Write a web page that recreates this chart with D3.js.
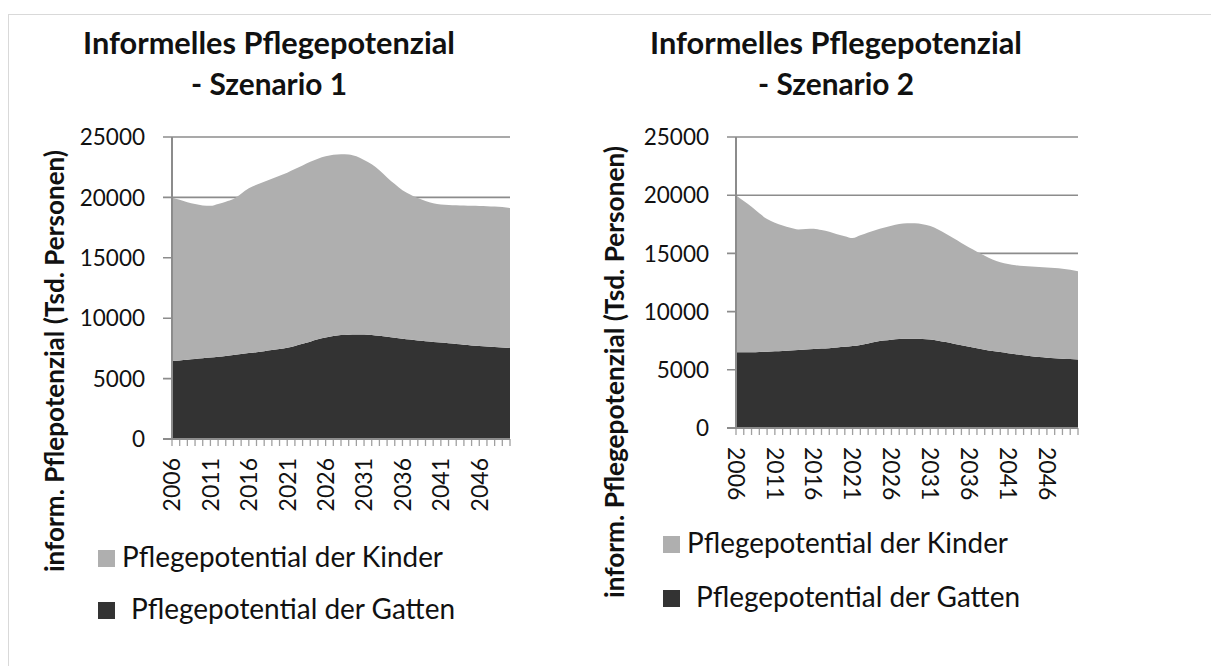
<!DOCTYPE html>
<html>
<head>
<meta charset="utf-8">
<script src="https://cdn.jsdelivr.net/npm/d3@7"></script>
<style>
  body { margin: 0; background: #fff; }
  svg { font-family: Lato, "Open Sans", sans-serif; }
</style>
</head>
<body>
<div id="chart"></div>
<script>
// years 2006 - 2050
var years = d3.range(2006, 2051);
var yearLabels = ["2006","2011","2016","2021","2026","2031","2036","2041","2046"];
var yTicks = [0, 5000, 10000, 15000, 20000, 25000];

// Szenario 1 (Tsd. Personen)
var gatten1 = [6450,6500,6560,6620,6680,6740,6810,6880,6950,7030,
               7110,7190,7270,7360,7450,7560,7700,7880,8060,8250,
               8400,8520,8600,8640,8660,8650,8610,8540,8460,8380,
               8300,8230,8160,8100,8040,7980,7920,7860,7800,7750,
               7700,7650,7610,7570,7530];
var kinder1 = [13550,13300,13040,12830,12650,12560,12640,12770,12920,13270,
               13640,13860,14030,14190,14350,14490,14650,14770,14890,14950,
               15000,15010,14980,14920,14740,14450,14140,13710,13190,12720,
               12300,12020,11790,11600,11480,11440,11450,11480,11520,11550,
               11590,11620,11630,11630,11590];

// Szenario 2 (Tsd. Personen)
var gatten2 = [6500,6500,6510,6530,6560,6590,6620,6660,6700,6740,
               6780,6820,6860,6910,6970,7040,7140,7270,7400,7510,
               7590,7640,7670,7670,7650,7600,7500,7380,7240,7100,
               6970,6850,6730,6620,6520,6420,6330,6240,6160,6090,
               6030,5990,5950,5920,5890];
var kinder2 = [13500,13000,12490,11920,11390,11050,10780,10540,10360,10360,
               10340,10180,9990,9740,9510,9280,9410,9530,9620,9690,
               9790,9880,9920,9910,9850,9750,9550,9300,9060,8800,
               8530,8300,8070,7860,7730,7680,7660,7680,7710,7740,
               7760,7750,7730,7680,7580];

var seriesNames = ["Pflegepotential der Kinder", "Pflegepotential der Gatten"];
var colKinder = "#afafaf", colGatten = "#333333", colAxis = "#8c8c8c";

var svg = d3.select("#chart").append("svg")
    .attr("width", 1211)
    .attr("height", 666);

// outer frame
svg.append("rect")
    .attr("x", 8.5).attr("y", 14.5)
    .attr("width", 1220).attr("height", 700)
    .attr("fill", "none")
    .attr("stroke", "#d9d9d9");

function drawChart(o) {
  var g = svg.append("g");
  var data = years.map(function(y, i) {
    return { year: y, gatten: o.gatten[i], kinder: o.kinder[i] };
  });
  var stack = d3.stack().keys(["gatten", "kinder"])(data);

  var x = d3.scalePoint().domain(years).range([o.x0, o.x1]);
  var y = d3.scaleLinear().domain([0, 25000]).range([o.y0, o.y1]);

  // gridlines
  g.selectAll(".grid").data(yTicks).enter().append("line")
      .attr("x1", o.x0 - 9).attr("x2", o.x1)
      .attr("y1", function(d) { return y(d); })
      .attr("y2", function(d) { return y(d); })
      .attr("stroke", colAxis).attr("stroke-width", 1.6);

  var area = d3.area()
      .curve(d3.curveMonotoneX)
      .x(function(d) { return x(d.data.year); })
      .y0(function(d) { return y(d[0]); })
      .y1(function(d) { return y(d[1]); });

  g.selectAll(".layer").data(stack).enter().append("path")
      .attr("d", area)
      .attr("fill", function(d) { return d.key == "gatten" ? colGatten : colKinder; });

  // y axis line
  g.append("line")
      .attr("x1", o.x0).attr("x2", o.x0)
      .attr("y1", y(25000)).attr("y2", o.y0)
      .attr("stroke", colAxis).attr("stroke-width", 2);

  // x axis ticks
  g.selectAll(".xt").data(years).enter().append("line")
      .attr("x1", function(d) { return x(d); })
      .attr("x2", function(d) { return x(d); })
      .attr("y1", o.y0).attr("y2", o.y0 + 7)
      .attr("stroke", "#a0a0a0").attr("stroke-width", 1.3);
  g.append("line")
      .attr("x1", o.x0 - 9).attr("x2", o.x1)
      .attr("y1", o.y0).attr("y2", o.y0)
      .attr("stroke", colAxis).attr("stroke-width", 2);

  // y tick labels
  g.selectAll(".yl").data(yTicks).enter().append("text")
      .attr("x", o.x0 - 27)
      .attr("y", function(d) { return y(d); })
      .attr("dy", "0.36em")
      .attr("text-anchor", "end")
      .attr("font-size", 22.5)
      .attr("fill", "#111")
      .text(function(d) { return d; });

  // x tick labels, rotated
  g.selectAll(".xl").data(yearLabels).enter().append("text")
      .attr("transform", function(d) {
        return "translate(" + x(+d) + "," + o.xlY + ") rotate(" + o.rot + ")";
      })
      .attr("dy", "0.36em")
      .attr("text-anchor", o.rot < 0 ? "end" : "start")
      .attr("font-size", 23)
      .attr("fill", "#111")
      .text(function(d) { return d; });

  // title
  g.selectAll(".title").data(o.title).enter().append("text")
      .attr("x", o.titleX)
      .attr("y", function(d, i) { return i == 0 ? 54 : 95; })
      .attr("text-anchor", "middle")
      .attr("font-size", 30)
      .attr("font-weight", "bold")
      .attr("fill", "#111")
      .attr("textLength", function(d, i) { return i == 0 ? 372 : 156; })
      .attr("lengthAdjust", "spacingAndGlyphs")
      .text(function(d) { return d; });

  // y axis title
  g.append("text")
      .attr("transform", "translate(" + o.ytX + "," + o.ytY + ") rotate(-90)")
      .attr("text-anchor", "middle")
      .attr("font-size", 26)
      .attr("font-weight", "bold")
      .attr("fill", "#111")
      .attr("textLength", o.ytLen)
      .attr("lengthAdjust", "spacingAndGlyphs")
      .text(o.yTitle);

  // legend
  var leg = g.selectAll(".leg").data(seriesNames).enter().append("g")
      .attr("transform", function(d, i) {
        return "translate(" + o.legX + "," + o.legY[i] + ")";
      });
  leg.append("rect")
      .attr("x", 0).attr("y", -17)
      .attr("width", 17).attr("height", 17)
      .attr("fill", function(d, i) { return i == 0 ? colKinder : colGatten; });
  leg.append("text")
      .attr("x", function(d, i) { return i == 0 ? 24 : 33; })
      .attr("font-size", 28)
      .attr("fill", "#111")
      .attr("textLength", function(d, i) { return i == 0 ? 321 : 324; })
      .attr("lengthAdjust", "spacingAndGlyphs")
      .text(function(d) { return d; });
}

drawChart({
  gatten: gatten1, kinder: kinder1,
  x0: 172, x1: 510, y0: 439, y1: 137, rot: -90, xlY: 458,
  title: ["Informelles Pflegepotenzial", "- Szenario 1"], titleX: 269,
  yTitle: "inform. Pflepotenzial (Tsd. Personen)", ytX: 64, ytY: 361, ytLen: 422,
  legX: 98, legY: [567, 619]
});

drawChart({
  gatten: gatten2, kinder: kinder2,
  x0: 736, x1: 1078, y0: 428, y1: 137, rot: 90, xlY: 447,
  title: ["Informelles Pflegepotenzial", "- Szenario 2"], titleX: 836,
  yTitle: "inform. Pflegepotenzial (Tsd. Personen)", ytX: 624, ytY: 372, ytLen: 452,
  legX: 663, legY: [553, 607]
});
</script>
</body>
</html>
